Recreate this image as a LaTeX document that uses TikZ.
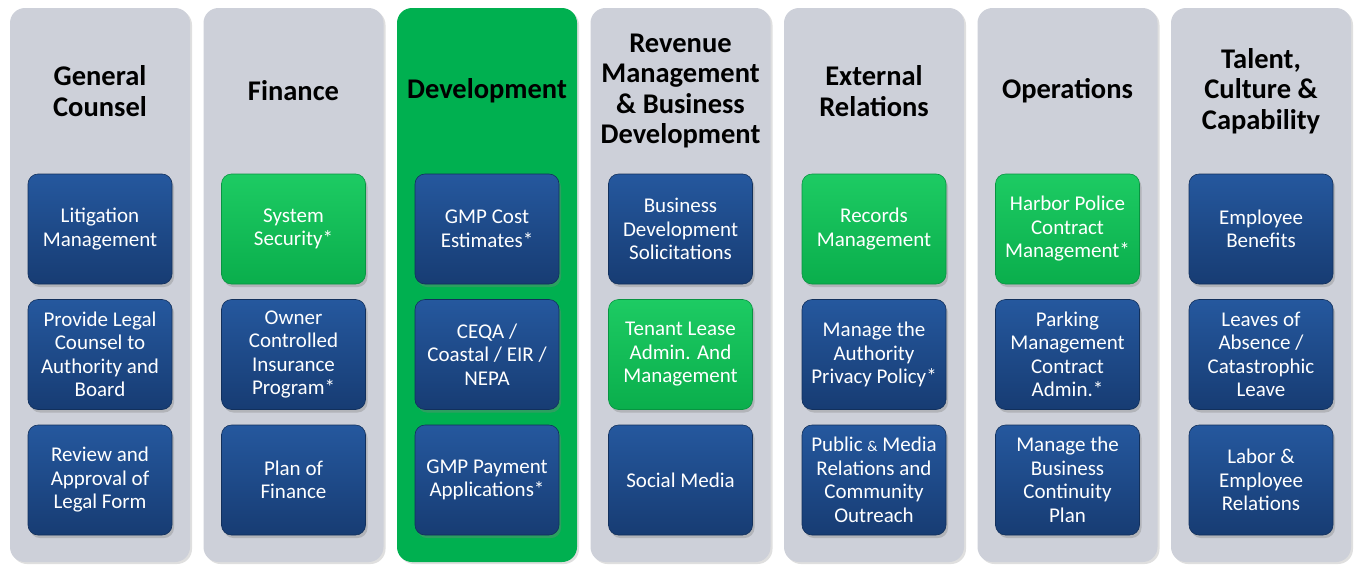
\documentclass[tikz,border=0pt]{standalone}
\usepackage{fontspec}
\setmainfont{Carlito}
\usetikzlibrary{shadows}
\definecolor{colgray}{HTML}{CDD0D9}
\definecolor{devgreen}{HTML}{00B050}
\definecolor{bluetop}{HTML}{25589E}
\definecolor{bluemid}{HTML}{1D4D8E}
\definecolor{bluebot}{HTML}{173C73}
\definecolor{greentop}{HTML}{1DCB63}
\definecolor{greenmid}{HTML}{0BC055}
\definecolor{greenbot}{HTML}{0AAE4C}
\tikzset{
  colbox/.style={draw=none, fill=colgray, rounded corners=15pt, minimum width=180pt, minimum height=554pt, inner sep=0pt,
     drop shadow={shadow xshift=2pt, shadow yshift=-2pt, opacity=0.25}},
  devcol/.style={colbox, fill=devgreen},
  title/.style={font=\bfseries\fontsize{28.5}{30.6}\selectfont, align=center, text=black, inner sep=0pt},
  task/.style={rounded corners=10pt, minimum width=144pt, minimum height=110pt, inner sep=0pt,
     align=center, text=white, font=\fontsize{21}{23.5}\selectfont,
     drop shadow={shadow xshift=2pt, shadow yshift=-3pt, opacity=0.35}},
  bluetask/.style={task, top color=bluetop, middle color=bluemid, bottom color=bluebot, draw=bluebot!80!black, line width=0.6pt},
  greentask/.style={task, top color=greentop, middle color=greenmid, bottom color=greenbot, draw=greenbot!85!black, line width=0.6pt},
}
\begin{document}
\begin{tikzpicture}[x=1pt,y=-1pt]
\useasboundingbox[fill=white] (0,0) rectangle (1356,565);
% columns
\node[colbox] (c1) at (100,285) {};
\node[colbox] (c2) at (293.5,285) {};
\node[devcol] (c3) at (487,285) {};
\node[colbox] (c4) at (680.5,285) {};
\node[colbox] (c5) at (874,285) {};
\node[colbox] (c6) at (1067.5,285) {};
\node[colbox] (c7) at (1261,285) {};
% titles
\node[title] (t1) at (100,91) {General\\Counsel};
\node[title] (t2) at (293.5,91) {Finance};
\node[title] (t3) at (487,91) {Development};
\node[title] (t4) at (680.5,91) {Revenue\\Management\\\& Business\\Development};
\node[title] (t5) at (874,91) {External\\Relations};
\node[title] (t6) at (1067.5,91) {Operations};
\node[title] (t7) at (1261,91) {Talent,\\Culture \&\\Capability};
% column 1
\node[bluetask] (a1) at (100,229) {Litigation\\Management};
\node[bluetask] (a2) at (100,354.5) {Provide Legal\\Counsel to\\Authority and\\Board};
\node[bluetask] (a3) at (100,480) {Review and\\Approval of\\Legal Form};
% column 2
\node[greentask] (b1) at (293.5,229) {System\\Security*};
\node[bluetask] (b2) at (293.5,354.5) {Owner\\Controlled\\Insurance\\Program*};
\node[bluetask] (b3) at (293.5,480) {Plan of\\Finance};
% column 3
\node[bluetask] (d1) at (487,229) {GMP Cost\\Estimates*};
\node[bluetask] (d2) at (487,354.5) {CEQA /\\Coastal / EIR /\\NEPA};
\node[bluetask] (d3) at (487,480) {GMP Payment\\Applications*};
% column 4
\node[bluetask] (e1) at (680.5,229) {Business\\Development\\Solicitations};
\node[greentask] (e2) at (680.5,354.5) {Tenant Lease\\Admin. And\\Management};
\node[bluetask] (e3) at (680.5,480) {Social Media};
% column 5
\node[greentask] (f1) at (874,229) {Records\\Management};
\node[bluetask] (f2) at (874,354.5) {Manage the\\Authority\\Privacy Policy*};
\node[bluetask] (f3) at (874,480) {Public {\fontsize{15}{15}\selectfont\&} Media\\Relations and\\Community\\Outreach};
% column 6
\node[greentask] (g1) at (1067.5,229) {Harbor Police\\Contract\\Management*};
\node[bluetask] (g2) at (1067.5,354.5) {Parking\\Management\\Contract\\Admin.*};
\node[bluetask] (g3) at (1067.5,480) {Manage the\\Business\\Continuity\\Plan};
% column 7
\node[bluetask] (h1) at (1261,229) {Employee\\Benefits};
\node[bluetask] (h2) at (1261,354.5) {Leaves of\\Absence /\\Catastrophic\\Leave};
\node[bluetask] (h3) at (1261,480) {Labor \&\\Employee\\Relations};
\end{tikzpicture}
\end{document}
